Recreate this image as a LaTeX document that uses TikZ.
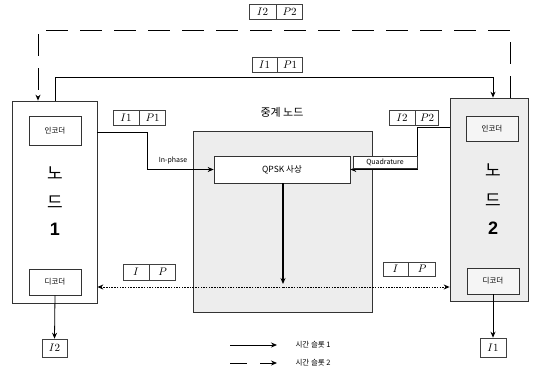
\documentclass[tikz,border=0pt]{standalone}
\usepackage{fontspec}
\newfontfamily\kr{Noto Sans CJK KR}
\newfontfamily\ls{Liberation Sans}
\usetikzlibrary{arrows.meta,calc}
\begin{document}
\begin{tikzpicture}[x=1pt,y=-1pt,
  box/.style={draw=black!80,line width=0.7pt,inner sep=0pt},
  cell/.style={draw=black!75,line width=0.6pt,inner sep=0pt,minimum height=15pt,font=\fontsize{11}{12}\selectfont},
  small/.style={font=\kr\fontsize{7.5}{8}\selectfont},
  big/.style={font=\kr\fontsize{17}{18}\selectfont},
  num/.style={font=\ls\bfseries\fontsize{18}{19}\selectfont},
  tip/.style={-{Stealth[length=6pt,width=5pt]}},
  wire/.style={line width=0.8pt},
  longdash/.style={line width=0.9pt,dash pattern=on 22pt off 12pt},
  dotline/.style={line width=0.9pt,dash pattern=on 1.5pt off 1.2pt}]
\useasboundingbox (0,0) rectangle (540,386);
% main boxes
\node[box,minimum width=85pt,minimum height=202pt] (n1) at (54.5,202) {};
\node[box,fill=black!7,minimum width=78pt,minimum height=203pt] (n2) at (489,199.5) {};
\node[box,fill=black!7,minimum width=179pt,minimum height=181pt] (r) at (282.5,221.5) {};
\node[font=\kr\fontsize{11}{12}\selectfont] (rl) at (282,112) {중계 노드};
\node[box,fill=white,minimum width=136pt,minimum height=27pt,font=\kr\fontsize{8.5}{9}\selectfont] (q) at (282,169.5) {QPSK 사상};
% inner boxes
\node[box,fill=white,minimum width=52pt,minimum height=29pt,small] (e1) at (55,131) {인코더};
\node[box,fill=white,minimum width=52pt,minimum height=26pt,small] (d1) at (55,282) {디코더};
\node[box,fill=black!4,minimum width=52pt,minimum height=25pt,small] (e2) at (492,128.5) {인코더};
\node[box,fill=black!4,minimum width=52pt,minimum height=26pt,small] (d2) at (493,281) {디코더};
% vertical node names
\node[big] (t1a) at (55,173) {노};
\node[big] (t1b) at (55,202) {드};
\node[num] (t1c) at (55,229) {1};
\node[big] (t2a) at (493,170) {노};
\node[big] (t2b) at (493,200) {드};
\node[num] (t2c) at (493,228) {2};
% outputs
\node[cell,minimum width=25pt,minimum height=18pt] (o1) at (54.5,348) {$I2$};
\node[cell,minimum width=26pt,minimum height=19pt] (o2) at (493,347.5) {$I1$};
\draw[wire,tip] (d1.south) -- (o1.north);
\draw[wire,tip] (d2.south) -- (o2.north);
% labels I/P
\node[cell,minimum width=27pt] (a1) at (262.5,12) {$I2$};
\node[cell,minimum width=26pt,anchor=west] (a2) at (a1.east) {$P2$};
\node[cell,minimum width=25pt] (b1) at (264.5,64.5) {$I1$};
\node[cell,minimum width=25pt,anchor=west] (b2) at (b1.east) {$P1$};
\node[cell,minimum width=26pt] (c1) at (126,117.5) {$I1$};
\node[cell,minimum width=26pt,anchor=west] (c2) at (c1.east) {$P1$};
\node[cell,minimum width=26pt] (f1) at (402,117.5) {$I2$};
\node[cell,minimum width=23pt,anchor=west] (f2) at (f1.east) {$P2$};
\node[cell,minimum width=26pt,minimum height=16pt] (g1) at (136,272) {$I$};
\node[cell,minimum width=26pt,minimum height=16pt,anchor=west] (g2) at (g1.east) {$P$};
\node[cell,minimum width=25pt,minimum height=14pt] (h1) at (395.5,269) {$I$};
\node[cell,minimum width=27pt,minimum height=14pt,anchor=west] (h2) at (h1.east) {$P$};
% time slot 2 (dashed)
\coordinate (dR) at (510,30);
\coordinate (dL) at (38,30);
\draw[longdash,tip] (n2.north -| dR) |- (dL) -- (n1.north -| dL);
% time slot 1 (solid top)
\coordinate (sL) at (55,77);
\coordinate (sR) at (493,77);
\draw[wire,tip] (n1.north -| sL) |- (sR) -- (n2.north -| sR);
% in-phase
\coordinate (ip) at (147,132);
\draw[wire,tip,line width=1pt] (n1.east |- ip) -- (ip) |- (q.west);
\node[font=\kr\fontsize{7}{8}\selectfont,anchor=south] (ipl) at (173,168) {In-phase};
% quadrature
\coordinate (qd) at (417,127);
\draw[wire,tip,line width=1pt] (n2.west |- qd) -- (qd) |- (q.east);
\node[box,fill=white,line width=0.6pt,minimum width=64pt,minimum height=12pt,font=\kr\fontsize{7}{8}\selectfont] (ql) at (385,162) {Quadrature};
% relay output
\coordinate (rc) at (283,287);
\draw[line width=1.4pt,tip] (q.south -| rc) -- ($(rc)+(0,-3)$);
\draw[dotline,tip] (rc) -- (n1.east |- rc);
\draw[dotline,tip] (rc) -- (n2.west |- rc);
% legend
\coordinate (l1a) at (230,345);
\coordinate (l1b) at (277,345);
\coordinate (l2a) at (230,363);
\coordinate (l2b) at (277,363);
\draw[wire,tip] (l1a) -- (l1b);
\draw[line width=0.8pt,dash pattern=on 17pt off 13pt,tip] (l2a) -- (l2b);
\node[small,anchor=west] (lt1) at (292,345) {시간 슬롯 1};
\node[small,anchor=west] (lt2) at (292,363) {시간 슬롯 2};
\end{tikzpicture}
\end{document}
